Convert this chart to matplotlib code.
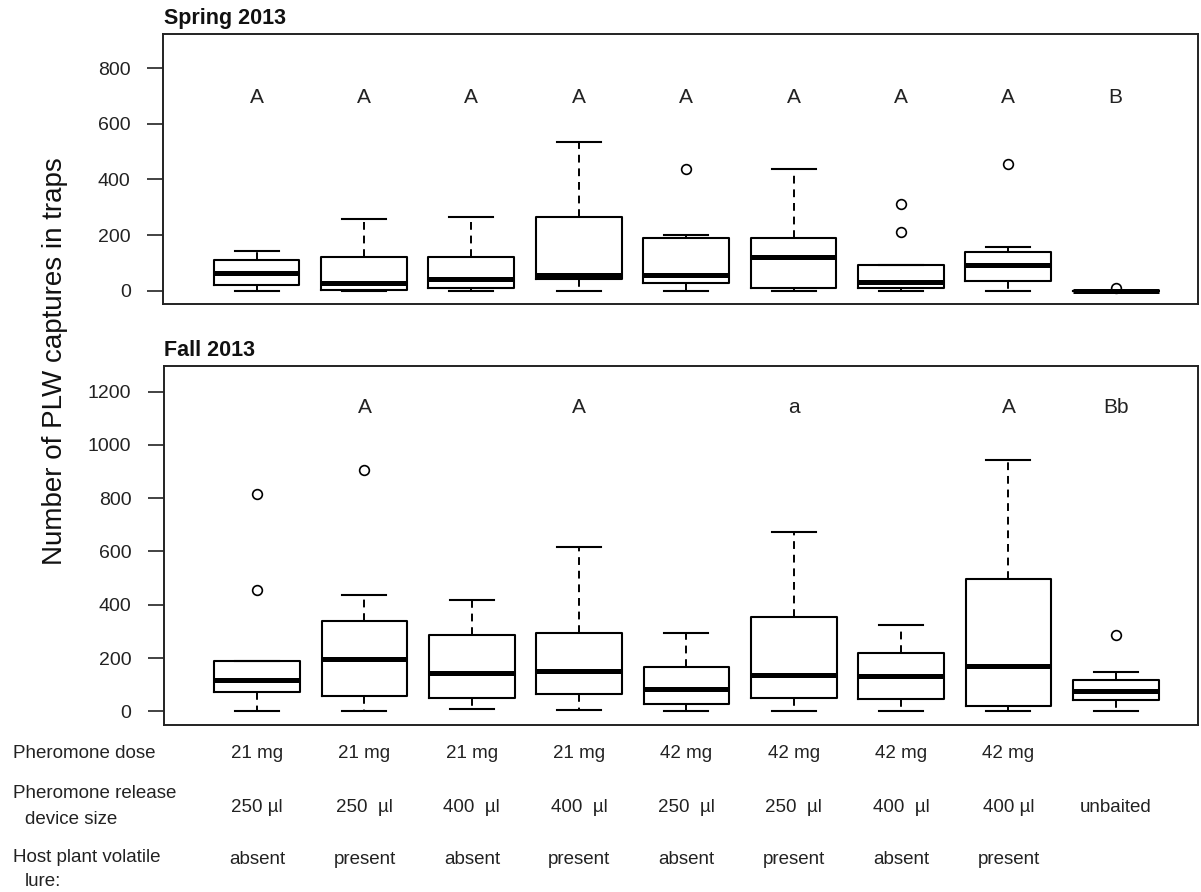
import matplotlib
matplotlib.use("Agg")
import matplotlib.pyplot as plt

plt.rcParams['font.family'] = ['Liberation Sans', 'DejaVu Sans']

# ---------------- data ----------------
positions = [1, 2, 3, 4, 5, 6, 7, 8, 9]

spring_whislo = [0, 0, 0, 0, 0, 0, 0, 0, 0]
spring_q1 = [22, 4, 11, 41, 27, 11, 11, 35, 0]
spring_med = [64, 29, 41, 56, 56, 120, 30, 92, 0]
spring_q3 = [109, 120, 120, 265, 190, 190, 91, 138, 0]
spring_whishi = [144, 259, 264, 536, 201, 438, 91, 156, 0]
spring_fliers = [[], [], [], [], [438], [], [311, 212], [455], [8]]
spring_letters = ['A', 'A', 'A', 'A', 'A', 'A', 'A', 'A', 'B']

fall_whislo = [0, 0, 10, 6, 0, 0, 0, 0, 0]
fall_q1 = [71, 59, 52, 66, 29, 52, 46, 22, 41]
fall_med = [119, 197, 143, 150, 84, 137, 132, 169, 76]
fall_q3 = [191, 341, 287, 293, 167, 353, 221, 498, 119]
fall_whishi = [191, 437, 419, 617, 293, 672, 323, 944, 149]
fall_fliers = [[814, 456], [906], [], [], [], [], [], [], [287]]
fall_letters = ['', 'A', '', 'A', '', 'a', '', 'A', 'Bb']

spring_ticks = [0, 200, 400, 600, 800]
fall_ticks = [0, 200, 400, 600, 800, 1000, 1200]

row_dose = ['21 mg', '21 mg', '21 mg', '21 mg', '42 mg', '42 mg', '42 mg', '42 mg', '']
row_size = ['250 µl', '250  µl', '400  µl', '400  µl', '250  µl', '250  µl',
            '400  µl', '400 µl', 'unbaited']
row_lure = ['absent', 'present', 'absent', 'present', 'absent', 'present',
            'absent', 'present', '']

# ---------------- figure ----------------
W, H = 1201, 892
fig = plt.figure(figsize=(W / 100, H / 100), dpi=100)


def px_axes(left, top, right, bottom):
    return fig.add_axes([left / W, 1 - bottom / H, (right - left) / W, (bottom - top) / H])


ax1 = px_axes(163.3, 34, 1198, 304)
ax2 = px_axes(164, 366, 1198, 725)


def make_stats(wl, q1, med, q3, wh, fl):
    return [dict(whislo=a, q1=b, med=c, q3=d, whishi=e, fliers=f)
            for a, b, c, d, e, f in zip(wl, q1, med, q3, wh, fl)]


common = dict(
    positions=positions, widths=0.8, capwidths=0.41, showfliers=True,
    boxprops=dict(color='black', lw=1.5),
    medianprops=dict(color='black', lw=3.6, solid_capstyle='butt'),
    whiskerprops=dict(color='black', lw=1.4, linestyle=(0, (4, 3))),
    capprops=dict(color='black', lw=1.5),
    flierprops=dict(marker='o', markerfacecolor='none', markeredgecolor='black',
                    markersize=7, markeredgewidth=1.2, linestyle='none'),
)

ax1.bxp(make_stats(spring_whislo, spring_q1, spring_med, spring_q3,
                   spring_whishi, spring_fliers), **common)
ax2.bxp(make_stats(fall_whislo, fall_q1, fall_med, fall_q3,
                   fall_whishi, fall_fliers), **common)

ax1.set_ylim(-48, 923)
ax2.set_ylim(-51, 1296)
for ax, ticks in ((ax1, spring_ticks), (ax2, fall_ticks)):
    ax.set_xlim(0.132, 9.766)
    ax.set_yticks(ticks)
    ax.set_yticklabels([str(t) for t in ticks])
    ax.set_xticks([])
    ax.tick_params(axis='y', length=11.5, width=1.2, pad=12, labelsize=14,
                   labelcolor='#222222', color='#222222')
    for s in ax.spines.values():
        s.set_linewidth(1.4)
        s.set_color('#222222')

for p, t in zip(positions, spring_letters):
    ax1.text(p, 674, t, ha='center', va='baseline', fontsize=15, color='#222222')
for p, t in zip(positions, fall_letters):
    if t:
        ax2.text(p, 1119, t, ha='center', va='baseline', fontsize=15, color='#222222')

# titles
fig.text(164 / W, 1 - 24 / H, 'Spring 2013', fontsize=15.5, fontweight='bold',
         ha='left', va='baseline', color='#111111')
fig.text(164 / W, 1 - 356 / H, 'Fall 2013', fontsize=15.5, fontweight='bold',
         ha='left', va='baseline', color='#111111')

# y label
fig.text(55 / W, 1 - 361 / H, 'Number of PLW captures in traps', rotation=90,
         ha='center', va='center', fontsize=20, color='#111111')

# bottom factor table
label_kw = dict(fontsize=13.5, color='#222222', ha='left', va='center')
fig.text(13 / W, 1 - 754 / H, 'Pheromone dose', **label_kw)
fig.text(13 / W, 1 - 794 / H, 'Pheromone release', **label_kw)
fig.text(25 / W, 1 - 819 / H, 'device size', **label_kw)
fig.text(13 / W, 1 - 857 / H, 'Host plant volatile', **label_kw)
fig.text(25 / W, 1 - 882 / H, 'lure:', **label_kw)

for p, a, b, c in zip(positions, row_dose, row_size, row_lure):
    for txt, ypx in ((a, 754), (b, 808), (c, 860)):
        if txt:
            ax2.annotate(txt, xy=(p, 1 - ypx / H), xycoords=('data', 'figure fraction'),
                         ha='center', va='center', fontsize=13.5, color='#222222',
                         annotation_clip=False)

fig.savefig('out.png', dpi=100)
